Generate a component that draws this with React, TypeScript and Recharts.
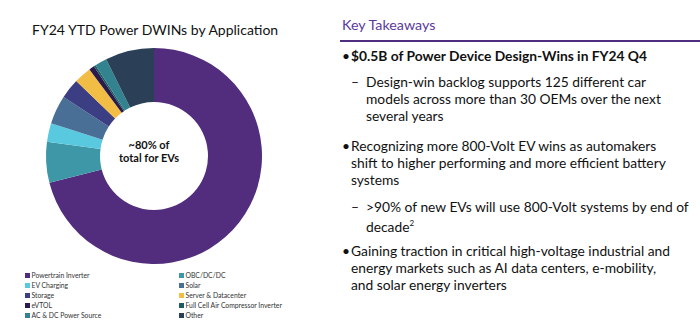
import { PieChart, Pie, Cell } from "recharts"

const applications = [
  "Powertrain Inverter",
  "OBC/DC/DC",
  "EV Charging",
  "Solar",
  "Storage",
  "Server & Datacenter",
  "eVTOL",
  "Full Cell Air Compressor Inverter",
  "AC & DC Power Source",
  "Other",
]
const shares = [71.0, 6.1, 2.8, 4.3, 3.0, 2.6, 0.8, 0.3, 1.8, 7.3]
const colors = [
  "#522d7d",
  "#3d97a6",
  "#59c9e0",
  "#4a6f96",
  "#3b3e83",
  "#f2bd45",
  "#2b1b4c",
  "#1e5c62",
  "#338290",
  "#2b4057",
]

const takeaways = [
  { kind: "bullet", bold: true, lines: ["$0.5B of Power Device Design-Wins in FY24 Q4"] },
  {
    kind: "sub",
    lines: [
      "Design-win backlog supports 125 different car",
      "models across more than 30 OEMs over the next",
      "several years",
    ],
  },
  {
    kind: "bullet",
    lines: [
      "Recognizing more 800-Volt EV wins as automakers",
      "shift to higher performing and more efficient battery",
      "systems",
    ],
  },
  {
    kind: "sub",
    lines: ["\u003e90% of new EVs will use 800-Volt systems by end of", "decade"],
    sup: "2",
  },
  {
    kind: "bullet",
    lines: [
      "Gaining traction in critical high-voltage industrial and",
      "energy markets such as AI data centers, e-mobility,",
      "and solar energy inverters",
    ],
  },
]
const blockTops = [47, 73, 137, 198, 242]

const data = applications.map((name, i) => ({ name, value: shares[i] }))

const font = "Lato, 'Noto Sans', sans-serif"

export default function App() {
  return (
    <div style={{ position: "absolute", left: 0, top: 0, width: 700, height: 325, background: "#fff", fontFamily: font }}>
      <div style={{ position: "absolute", left: 32, top: 21, fontSize: 14, color: "#111", whiteSpace: "nowrap" }}>
        FY24 YTD Power DWINs by Application
      </div>
      <div style={{ position: "absolute", left: 0, top: 0 }}>
        <PieChart width={300} height={265}>
          <Pie
            data={data}
            dataKey="value"
            nameKey="name"
            cx={149}
            cy={151}
            innerRadius={54}
            outerRadius={108}
            startAngle={90}
            endAngle={-270}
            stroke="none"
            isAnimationActive={false}
          >
            {data.map((d, i) => (
              <Cell key={d.name} fill={colors[i]} />
            ))}
          </Pie>
        </PieChart>
      </div>
      <div
        style={{
          position: "absolute",
          left: 99,
          top: 138,
          width: 100,
          textAlign: "center",
          fontSize: 11,
          lineHeight: "13px",
          fontWeight: 700,
          color: "#111",
        }}
      >
        ~80% of
        <br />
        total for EVs
      </div>
      {/* legend, two columns filled row by row */}
      <div style={{ position: "absolute", left: 25, top: 270, width: 320, display: "grid", gridTemplateColumns: "154px 160px" }}>
        {applications.map((name, i) => (
          <div key={name} style={{ display: "flex", alignItems: "center", height: 10, fontSize: 6.8, color: "#333", whiteSpace: "nowrap" }}>
            <span style={{ width: 5, height: 5, background: colors[i], marginRight: 1.5, display: "inline-block" }} />
            {name}
          </div>
        ))}
      </div>

      <div style={{ position: "absolute", left: 342, top: 16, fontSize: 14.3, color: "#5b3a9a" }}>Key Takeaways</div>
      <div style={{ position: "absolute", left: 340, top: 40, width: 360, height: 2, background: "#4f2d7f" }} />
      {takeaways.map((t, i) => (
        <div
          key={i}
          style={{
            position: "absolute",
            left: t.kind === "bullet" ? 351 : 366,
            top: blockTops[i],
            fontSize: 13.8,
            lineHeight: "17px",
            color: "#111",
            fontWeight: t.bold ? 700 : 400,
            whiteSpace: "nowrap",
          }}
        >
          <span style={{ position: "absolute", left: t.kind === "bullet" ? -9 : -15, top: 0, fontWeight: 400 }}>
            {t.kind === "bullet" ? "\u2022" : "\u2013"}
          </span>
          {t.lines.map((l, j) => (
            <div key={j}>
              {l}
              {t.sup && j === t.lines.length - 1 ? <sup style={{ fontSize: 8 }}>{t.sup}</sup> : null}
            </div>
          ))}
        </div>
      ))}
    </div>
  )
}
